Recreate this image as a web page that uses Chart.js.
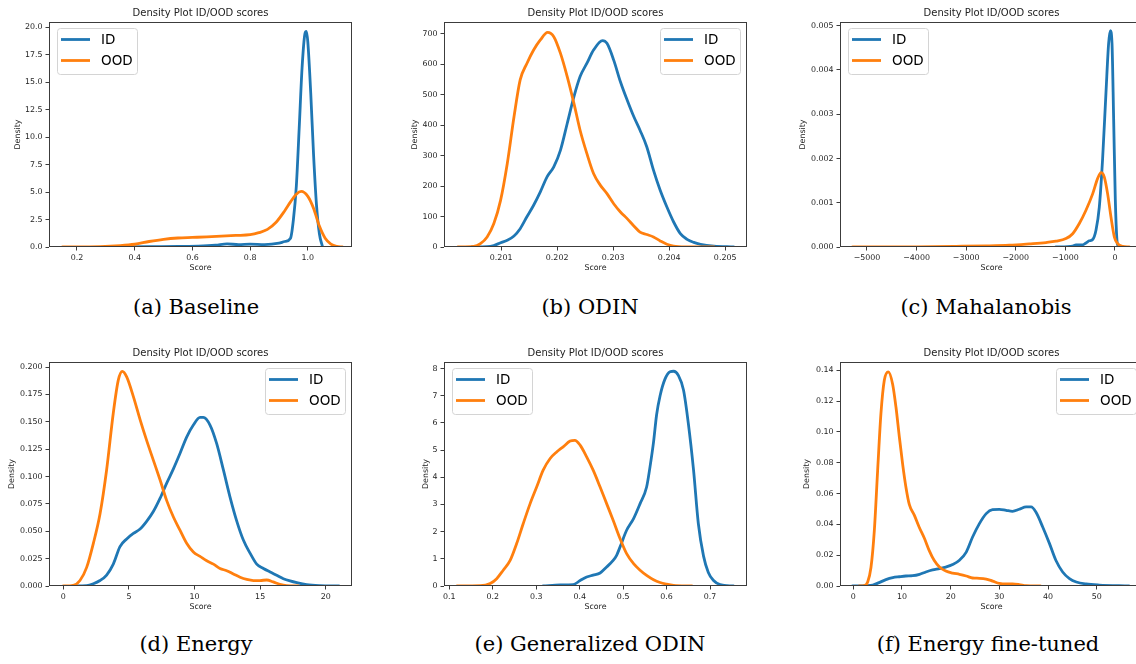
<!DOCTYPE html>
<html>
<head>
<meta charset="utf-8">
<script src="https://cdn.jsdelivr.net/npm/chart.js@4/dist/chart.umd.min.js"></script>
<style>
  body { margin: 0; background: #fff; width: 1136px; height: 664px; position: relative; overflow: hidden; }
  canvas { position: absolute; }
  .cap { position: absolute; font-family: "DejaVu Serif", serif; font-size: 21px; line-height: 21px;
         color: #000; white-space: nowrap; transform: translateX(-50%); }
</style>
</head>
<body>
<script>
// ---- data (x = score, y = density) ----
const seriesNames = ['ID', 'OOD'];
const captions = ['(a) Baseline', '(b) ODIN', '(c) Mahalanobis', '(d) Energy', '(e) Generalized ODIN', '(f) Energy fine-tuned'];

// (a) Baseline
const baselineIdX = [0.35, 0.45, 0.55, 0.62, 0.68, 0.72, 0.76, 0.80, 0.85, 0.90, 0.92, 0.94, 0.95, 0.96, 0.97, 0.98, 0.99, 0.995, 1.00, 1.01, 1.02, 1.03, 1.04, 1.05];
const baselineIdY = [0, 0.03, 0.06, 0.08, 0.16, 0.28, 0.22, 0.26, 0.22, 0.35, 0.5, 0.8, 2.5, 5.5, 10.8, 16.3, 19.4, 19.6, 18.6, 14.0, 8.3, 3.8, 1.2, 0.1];
const baselineOodX = [0.15, 0.28, 0.35, 0.40, 0.45, 0.50, 0.55, 0.60, 0.65, 0.70, 0.75, 0.80, 0.83, 0.86, 0.89, 0.92, 0.94, 0.96, 0.977, 1.00, 1.02, 1.04, 1.06, 1.08, 1.10, 1.12];
const baselineOodY = [0, 0.03, 0.12, 0.25, 0.5, 0.7, 0.82, 0.87, 0.92, 0.98, 1.05, 1.12, 1.3, 1.6, 2.25, 3.3, 4.1, 4.8, 5.05, 4.6, 3.5, 1.9, 0.8, 0.27, 0.06, 0];
const baselineXTicks = [0.2, 0.4, 0.6, 0.8, 1.0];
const baselineYTicks = [0, 2.5, 5, 7.5, 10, 12.5, 15, 17.5, 20];

// (b) ODIN
const odinIdX = [0.20048, 0.20075, 0.20087, 0.20099, 0.20111, 0.20123, 0.20134, 0.20146, 0.20158, 0.2017, 0.20182, 0.20194, 0.20206, 0.20218, 0.2023, 0.20241, 0.20253, 0.20265, 0.20281, 0.20289, 0.20301, 0.20313, 0.20325, 0.20337, 0.20348, 0.2036, 0.20372, 0.20384, 0.20396, 0.20408, 0.2042, 0.20432, 0.20444, 0.20456, 0.2048, 0.20515];
const odinIdY = [0, 1, 5, 14, 22, 36, 60, 99, 137, 181, 230, 263, 318, 405, 493, 559, 602, 646, 677, 668, 613, 542, 482, 427, 383, 329, 252, 186, 131, 82, 44, 25, 15, 9, 3, 0];
const odinOodX = [0.20023, 0.20051, 0.20063, 0.20075, 0.20087, 0.20099, 0.20111, 0.20123, 0.20134, 0.20146, 0.20158, 0.2017, 0.20183, 0.20194, 0.20206, 0.20218, 0.2023, 0.20241, 0.20253, 0.20265, 0.20277, 0.20289, 0.20301, 0.20313, 0.20325, 0.20337, 0.20348, 0.2036, 0.20372, 0.20384, 0.20396, 0.20408, 0.2043, 0.2048];
const odinOodY = [0, 2, 11, 33, 77, 153, 274, 427, 548, 602, 646, 679, 704, 690, 635, 559, 471, 383, 307, 241, 203, 175, 142, 115, 93, 69, 49, 41, 33, 20, 9, 3, 0.5, 0];
const odinXTicks = [0.201, 0.202, 0.203, 0.204, 0.205];
const odinYTicks = [0, 100, 200, 300, 400, 500, 600, 700];

// (c) Mahalanobis
const mahaIdX = [-1190, -853, -786, -652, -585, -517, -450, -383, -316, -249, -181, -128, -94, -60, -27, 7, 40, 67];
const mahaIdY = [0, 0.00002, 0.00005, 0.00005, 0.00009, 0.00014, 0.00017, 0.00038, 0.0009, 0.002, 0.0035, 0.0046, 0.00489, 0.0046, 0.0029, 0.00106, 0.00015, 0];
const mahaOodX = [-5289, -4000, -3206, -2600, -2130, -1727, -1391, -1190, -988, -853, -719, -585, -450, -349, -282, -215, -148, -81, -13, 54, 155, 289];
const mahaOodY = [0, 0.000005, 0.000015, 0.000025, 0.00004, 0.00007, 0.0001, 0.00013, 0.00019, 0.0003, 0.00053, 0.00083, 0.0012, 0.00155, 0.00168, 0.00158, 0.0012, 0.00068, 0.00023, 0.000075, 0.000015, 0];
const mahaXTicks = [-5000, -4000, -3000, -2000, -1000, 0];
const mahaYTicks = [0, 0.001, 0.002, 0.003, 0.004, 0.005];

// (d) Energy
const energyIdX = [0.76, 1.78, 2.29, 2.8, 3.3, 3.81, 4.32, 4.83, 5.34, 5.85, 6.35, 6.86, 7.37, 7.88, 8.39, 8.89, 9.4, 9.91, 10.42, 10.67, 11.18, 11.69, 12.2, 12.71, 13.2, 13.72, 14.23, 14.74, 15.25, 15.76, 16.26, 16.77, 17.28, 17.79, 18.55, 19.57, 21.0];
const energyIdY = [0, 0.0003, 0.002, 0.005, 0.01, 0.02, 0.036, 0.043, 0.048, 0.052, 0.059, 0.068, 0.080, 0.094, 0.107, 0.121, 0.136, 0.147, 0.154, 0.154, 0.147, 0.130, 0.106, 0.081, 0.060, 0.042, 0.030, 0.020, 0.016, 0.0128, 0.0098, 0.0067, 0.0046, 0.003, 0.0012, 0.0003, 0];
const energyOodX = [0, 0.76, 1.27, 1.78, 2.29, 2.8, 3.3, 3.81, 4.19, 4.5, 4.83, 5.34, 5.85, 6.35, 6.86, 7.37, 7.88, 8.39, 8.89, 9.4, 9.91, 10.42, 10.93, 11.44, 11.94, 12.45, 12.96, 13.47, 13.98, 14.49, 14.99, 15.5, 16.0, 16.5, 17.0, 17.9];
const energyOodY = [0, 0.0006, 0.005, 0.017, 0.039, 0.066, 0.106, 0.158, 0.188, 0.196, 0.191, 0.173, 0.152, 0.133, 0.115, 0.097, 0.078, 0.063, 0.051, 0.039, 0.031, 0.027, 0.023, 0.020, 0.016, 0.014, 0.011, 0.008, 0.006, 0.005, 0.005, 0.0055, 0.0037, 0.0015, 0.0003, 0];
const energyXTicks = [0, 5, 10, 15, 20];
const energyYTicks = [0, 0.025, 0.05, 0.075, 0.1, 0.125, 0.15, 0.175, 0.2];

// (e) Generalized ODIN
const godinIdX = [0.316, 0.355, 0.385, 0.401, 0.416, 0.431, 0.447, 0.462, 0.477, 0.485, 0.493, 0.508, 0.524, 0.539, 0.554, 0.562, 0.57, 0.577, 0.585, 0.596, 0.608, 0.616, 0.627, 0.639, 0.65, 0.662, 0.673, 0.685, 0.696, 0.708, 0.723, 0.754];
const godinIdY = [0, 0.04, 0.05, 0.2, 0.33, 0.4, 0.48, 0.7, 0.94, 1.13, 1.44, 2.05, 2.48, 3.03, 3.64, 4.4, 5.3, 6.3, 7.0, 7.6, 7.88, 7.9, 7.75, 7.2, 5.98, 4.26, 2.3, 1.1, 0.5, 0.2, 0.05, 0];
const godinOodX = [0.118, 0.171, 0.194, 0.209, 0.224, 0.24, 0.255, 0.27, 0.286, 0.301, 0.316, 0.332, 0.347, 0.362, 0.378, 0.389, 0.401, 0.416, 0.431, 0.447, 0.462, 0.477, 0.493, 0.508, 0.524, 0.539, 0.554, 0.57, 0.585, 0.6, 0.616, 0.658];
const godinOodY = [0, 0.01, 0.09, 0.27, 0.58, 0.94, 1.56, 2.29, 3.03, 3.64, 4.26, 4.69, 4.93, 5.12, 5.33, 5.36, 5.18, 4.75, 4.26, 3.64, 3.03, 2.42, 1.74, 1.19, 0.82, 0.58, 0.39, 0.23, 0.13, 0.07, 0.025, 0];
const godinXTicks = [0.1, 0.2, 0.3, 0.4, 0.5, 0.6, 0.7];
const godinYTicks = [0, 1, 2, 3, 4, 5, 6, 7, 8];

// (f) Energy fine-tuned
const energyFtIdX = [-0.14, 2.6, 4.0, 5.3, 6.7, 8.1, 9.45, 10.8, 12.2, 13.6, 14.9, 16.3, 17.7, 19.0, 20.4, 21.8, 23.2, 24.5, 25.9, 27.3, 28.6, 30.0, 31.4, 32.7, 34.1, 35.5, 36.5, 37.5, 38.9, 40.3, 41.6, 43.0, 44.4, 45.8, 47.8, 50.5, 56.6];
const energyFtIdY = [0, 0.0002, 0.0006, 0.0022, 0.0041, 0.0054, 0.006, 0.0065, 0.0067, 0.0076, 0.0091, 0.0104, 0.0113, 0.0123, 0.0139, 0.0167, 0.022, 0.0318, 0.0405, 0.047, 0.0496, 0.0498, 0.0491, 0.0485, 0.0498, 0.0513, 0.0513, 0.048, 0.0383, 0.0275, 0.0167, 0.0091, 0.0048, 0.0026, 0.0013, 0.0006, 0];
const energyFtOodX = [1.23, 2.26, 2.95, 3.63, 4.32, 5.0, 5.68, 6.37, 7.19, 8.08, 8.77, 9.45, 10.14, 10.82, 11.5, 12.53, 13.56, 14.6, 15.6, 16.6, 17.7, 19.0, 20.4, 21.8, 23.2, 24.5, 25.9, 27.3, 28.6, 30.0, 31.4, 32.7, 34.1, 35.5, 38.4];
const energyFtOodY = [0, 0.0002, 0.0026, 0.012, 0.036, 0.075, 0.112, 0.1335, 0.139, 0.131, 0.116, 0.097, 0.079, 0.064, 0.053, 0.046, 0.038, 0.031, 0.023, 0.0167, 0.0123, 0.0097, 0.0084, 0.0076, 0.0065, 0.0052, 0.005, 0.0045, 0.0032, 0.0017, 0.0013, 0.0013, 0.0009, 0.0002, 0];
const energyFtXTicks = [0, 10, 20, 30, 40, 50];
const energyFtYTicks = [0, 0.02, 0.04, 0.06, 0.08, 0.1, 0.12, 0.14];

// ---- layout: plot rect [left, top, right, bottom] in page px ----
const panels = [
  { rect: [49, 22, 352, 247],    idX: baselineIdX, idY: baselineIdY, oodX: baselineOodX, oodY: baselineOodY,
    xTicks: baselineXTicks, yTicks: baselineYTicks, xRange: [0.103, 1.153], yMax: 20.46, xDec: 1, yDec: 1,
    legend: 'left', yTitlePad: 12.8, cap: [196, 297] },
  { rect: [444, 22, 747, 247],   idX: odinIdX, idY: odinIdY, oodX: odinOodX, oodY: odinOodY,
    xTicks: odinXTicks, yTicks: odinYTicks, xRange: [0.19998, 0.20539], yMax: 738, xDec: 3, yDec: 0,
    legend: 'right', yTitlePad: 14.8, cap: [590, 297] },
  { rect: [840, 22, 1143, 247],  idX: mahaIdX, idY: mahaIdY, oodX: mahaOodX, oodY: mahaOodY,
    xTicks: mahaXTicks, yTicks: mahaYTicks, xRange: [-5544, 565], yMax: 0.005084, xDec: 0, yDec: 3,
    legend: 'left', yTitlePad: 7.7, cap: [986, 297] },
  { rect: [49, 362, 352, 586],   idX: energyIdX, idY: energyIdY, oodX: energyOodX, oodY: energyOodY,
    xTicks: energyXTicks, yTicks: energyYTicks, xRange: [-1.09, 22.0], yMax: 0.2046, xDec: 0, yDec: 3,
    legend: 'right', yTitlePad: 7.2, cap: [196, 634] },
  { rect: [444, 362, 747, 586],  idX: godinIdX, idY: godinIdY, oodX: godinOodX, oodY: godinOodY,
    xTicks: godinXTicks, yTicks: godinYTicks, xRange: [0.0878, 0.785], yMax: 8.24, xDec: 1, yDec: 0,
    legend: 'left', yTitlePad: 26.2, cap: [590, 634] },
  { rect: [840, 362, 1143, 586], idX: energyFtIdX, idY: energyFtIdY, oodX: energyFtOodX, oodY: energyFtOodY,
    xTicks: energyFtXTicks, yTicks: energyFtYTicks, xRange: [-2.73, 59.5], yMax: 0.1454, xDec: 0, yDec: 2,
    legend: 'right', yTitlePad: 11.7, cap: [988, 634] }
];

const BLUE = '#1f77b4';
const ORANGE = '#ff7f0e';
const AXIS = '#3c3c3c';
const Y_AXIS_W = 49, X_AXIS_H = 34, PAD_TOP = 22, PAD_RIGHT = 8;

Chart.defaults.font.family = '"DejaVu Sans", sans-serif';
Chart.defaults.font.size = 7.9;
Chart.defaults.color = '#222';

function fmt(v, dec) {
  const s = Math.abs(v).toFixed(dec);
  return v < 0 ? '\u2212' + s : s;
}

function points(xs, ys) {
  return xs.map((x, i) => ({ x, y: ys[i] }));
}

// spines, title and the in-axes legend (matplotlib style)
const panelDeco = {
  id: 'panelDeco',
  afterDraw(chart, args, opts) {
    const { ctx, chartArea: a } = chart;
    ctx.save();
    ctx.strokeStyle = AXIS;
    ctx.lineWidth = 1;
    ctx.strokeRect(Math.round(a.left) + 0.5, Math.round(a.top) + 0.5,
                   Math.round(a.right - a.left) - 1, Math.round(a.bottom - a.top) - 1);

    ctx.fillStyle = '#222';
    ctx.font = '10px "DejaVu Sans"';
    ctx.textAlign = 'center';
    ctx.textBaseline = 'middle';
    ctx.fillText('Density Plot ID/OOD scores', (a.left + a.right) / 2, a.top - 9);

    const w = 80, h = 46;
    const x0 = opts.side === 'left' ? a.left + 8 : a.right - 7 - w;
    const y0 = a.top + 6;
    ctx.fillStyle = 'rgba(255,255,255,0.85)';
    ctx.strokeStyle = '#d4d4d4';
    ctx.beginPath();
    ctx.roundRect(Math.round(x0) + 0.5, Math.round(y0) + 0.5, w, h, 3);
    ctx.fill();
    ctx.stroke();
    chart.data.datasets.forEach((ds, i) => {
      const yy = y0 + 11.5 + i * 21;
      ctx.strokeStyle = ds.borderColor;
      ctx.lineWidth = 2.8;
      ctx.beginPath();
      ctx.moveTo(x0 + 4, yy);
      ctx.lineTo(x0 + 33, yy);
      ctx.stroke();
      ctx.fillStyle = '#000';
      ctx.font = '13.5px "DejaVu Sans"';
      ctx.textAlign = 'left';
      ctx.textBaseline = 'middle';
      ctx.fillText(ds.label, x0 + 44, yy + 0.5);
    });
    ctx.restore();
  }
};

function axisOpts(ticks, dec, min, max, titleText, titlePad, fitFn) {
  return {
    type: 'linear',
    min, max,
    afterBuildTicks: s => { s.ticks = ticks.map(v => ({ value: v })); },
    afterFit: fitFn,
    ticks: { padding: 3, autoSkip: false, maxRotation: 0, color: '#222', callback: v => fmt(v, dec) },
    grid: { drawOnChartArea: false, drawTicks: true, tickLength: 3.5, color: AXIS, lineWidth: 1 },
    border: { display: false },
    title: { display: true, text: titleText, color: '#222', padding: titlePad }
  };
}

panels.forEach((p, k) => {
  const [L, T, R, B] = p.rect;
  const cv = document.createElement('canvas');
  cv.width = R - L + Y_AXIS_W + PAD_RIGHT;
  cv.height = B - T + PAD_TOP + X_AXIS_H;
  cv.style.left = (L - Y_AXIS_W) + 'px';
  cv.style.top = (T - PAD_TOP) + 'px';
  document.body.appendChild(cv);

  new Chart(cv, {
    type: 'line',
    data: {
      datasets: [
        { label: seriesNames[0], data: points(p.idX, p.idY), borderColor: BLUE, order: 2 },
        { label: seriesNames[1], data: points(p.oodX, p.oodY), borderColor: ORANGE, order: 1 }
      ]
    },
    options: {
      responsive: false,
      animation: false,
      events: [],
      layout: { padding: { left: 0, top: PAD_TOP, right: PAD_RIGHT, bottom: 0 } },
      elements: {
        line: { borderWidth: 2.8, fill: false, cubicInterpolationMode: 'monotone', borderCapStyle: 'round' },
        point: { radius: 0 }
      },
      scales: {
        x: axisOpts(p.xTicks, p.xDec, p.xRange[0], p.xRange[1], 'Score', { top: 0, bottom: 8.2 },
                    s => { s.height = X_AXIS_H; }),
        y: axisOpts(p.yTicks, p.yDec, 0, p.yMax, 'Density', { top: p.yTitlePad, bottom: 0 },
                    s => { s.width = Y_AXIS_W; })
      },
      plugins: {
        legend: { display: false },
        tooltip: { enabled: false },
        panelDeco: { side: p.legend }
      }
    },
    plugins: [panelDeco]
  });

  const cap = document.createElement('div');
  cap.className = 'cap';
  cap.textContent = captions[k];
  cap.style.left = p.cap[0] + 'px';
  cap.style.top = p.cap[1] + 'px';
  document.body.appendChild(cap);
});
</script>
</body>
</html>
